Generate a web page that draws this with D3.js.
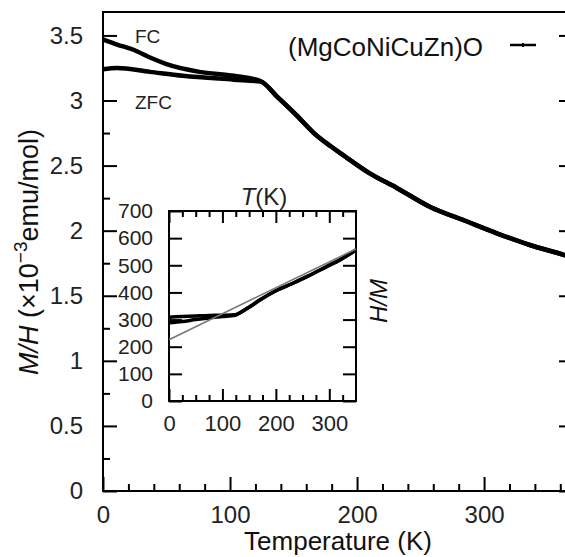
<!DOCTYPE html>
<html>
<head>
<meta charset="utf-8">
<script src="https://cdnjs.cloudflare.com/ajax/libs/d3/7.8.5/d3.min.js"></script>
<style>
body { margin: 0; background: #fff; }
svg { display: block; font-family: 'Liberation Sans', Arial, sans-serif; }
.axis line { stroke: #000; stroke-width: 2; }
.axis text { fill: #222; }
</style>
</head>
<body>
<div id="chartDiv"></div>
<script>
// MAIN PANEL: M/H (x10^-3 emu/mol) vs T (K)
var fcTemp = [0, 11, 24, 37, 50, 76, 103, 124];
var fcMH = [3.47, 3.43, 3.39, 3.33, 3.28, 3.22, 3.19, 3.15];
var zfcTemp = [0, 11, 37, 63, 103, 124];
var zfcMH = [3.24, 3.25, 3.22, 3.19, 3.16, 3.145];
var tailTemp = [137, 152, 166, 179, 192, 210, 231, 258, 284, 310, 336, 364, 370];
var tailMH = [3.03, 2.89, 2.75, 2.65, 2.56, 2.44, 2.33, 2.18, 2.08, 1.98, 1.89, 1.81, 1.79];
var xTicks = [0, 100, 200, 300];
var xMinor = [20, 40, 60, 80, 120, 140, 160, 180, 220, 240, 260, 280, 320, 340, 360];
var yTicks = [0, 0.5, 1, 1.5, 2, 2.5, 3, 3.5];
var yMinor = [0.25, 0.75, 1.25, 1.75, 2.25, 2.75, 3.25];

// INSET: H/M vs T
var inFcTemp = [0, 25, 50, 75, 100, 124];
var inFcHM = [288, 293, 300, 306, 311, 316];
var inZfcTemp = [0, 25, 50, 75, 100, 124];
var inZfcHM = [309, 311, 313, 315, 316, 318];
var inTailTemp = [137, 152, 170, 202, 230, 258, 295, 320, 350];
var inTailHM = [330, 348, 372, 408, 432, 458, 495, 520, 556];
var fitTemp = [0, 350];
var fitHM = [226, 560];
var inXTicks = [0, 100, 200, 300];
var inXMinor = [25, 50, 75, 125, 150, 175, 225, 250, 275, 325];
var inYTicks = [0, 100, 200, 300, 400, 500, 600, 700];

var w = 565, h = 557;
var padL = 103, padR = 573, padT = 12, padB = 491; //right edge sits just outside the picture

var svg = d3.select('#chartDiv')
  .append('svg')
    .attr('width', w)
    .attr('height', h);

var x = d3.scaleLinear().domain([0, 370]).range([padL, padR]);
var y = d3.scaleLinear().domain([0, 3.68]).range([padB, padT]);

function series(t, v) {
  return d3.zip(t, v);
}

function styleAxis(g, size) {
  g.attr('font-size', null).attr('font-family', null);
  g.select('.domain').remove();
  g.selectAll('text').attr('font-size', size);
}

// frame
svg.append('rect')
  .attr('x', padL).attr('y', padT)
  .attr('width', padR - padL).attr('height', padB - padT)
  .attr('fill', 'none').attr('stroke', '#000').attr('stroke-width', 2);

// X axis, ticks point inward
svg.append('g').classed('axis', true)
  .attr('transform', 'translate(0,' + padB + ')')
  .call(d3.axisBottom(x).tickValues(xTicks).tickSize(-14).tickSizeOuter(0).tickPadding(15).tickFormat(d3.format('d')))
  .call(styleAxis, 24);
svg.append('g').classed('axis', true)
  .attr('transform', 'translate(0,' + padB + ')')
  .call(d3.axisBottom(x).tickValues(xMinor).tickSize(-7).tickSizeOuter(0).tickFormat(''))
  .call(styleAxis, 24);

// Y axis left + right
svg.append('g').classed('axis', true)
  .attr('transform', 'translate(' + padL + ',0)')
  .call(d3.axisLeft(y).tickValues(yTicks).tickSize(-14).tickSizeOuter(0).tickPadding(20).tickFormat(function(d) { return d; }))
  .call(styleAxis, 24);
svg.append('g').classed('axis', true)
  .attr('transform', 'translate(' + padL + ',0)')
  .call(d3.axisLeft(y).tickValues(yMinor).tickSize(-7).tickSizeOuter(0).tickFormat(''))
  .call(styleAxis, 24);
svg.append('g').classed('axis', true)
  .attr('transform', 'translate(' + padR + ',0)')
  .call(d3.axisRight(y).tickValues(yTicks).tickSize(-14).tickSizeOuter(0).tickFormat(''))
  .call(styleAxis, 24);
svg.append('g').classed('axis', true)
  .attr('transform', 'translate(' + padR + ',0)')
  .call(d3.axisRight(y).tickValues(yMinor).tickSize(-7).tickSizeOuter(0).tickFormat(''))
  .call(styleAxis, 24);

// axis titles
svg.append('text')
  .attr('x', (padL + padR) / 2).attr('y', 550)
  .attr('text-anchor', 'middle').attr('font-size', 26).attr('fill', '#111')
  .text('Temperature (K)');

var yTitle = svg.append('text')
  .attr('transform', 'translate(38,252) rotate(-90)')
  .attr('text-anchor', 'middle').attr('font-size', 27).attr('fill', '#111');
yTitle.append('tspan').attr('font-style', 'italic').text('M/H');
yTitle.append('tspan').text(' (\u00d710');
yTitle.append('tspan').attr('dy', -11).attr('font-size', 19).text('\u22123');
yTitle.append('tspan').attr('dy', 11).text('emu/mol)');

// curves
var line = d3.line()
  .x(function(d) { return x(d[0]); })
  .y(function(d) { return y(d[1]); })
  .curve(d3.curveMonotoneX);

svg.append('path')
  .datum(series(fcTemp.concat(tailTemp), fcMH.concat(tailMH)))
  .attr('fill', 'none').attr('stroke', '#000').attr('stroke-width', 4.5)
  .attr('d', line);
svg.append('path')
  .datum(series(zfcTemp.concat(tailTemp), zfcMH.concat(tailMH)))
  .attr('fill', 'none').attr('stroke', '#000').attr('stroke-width', 4.5)
  .attr('d', line);

svg.append('text').attr('x', 135).attr('y', 43).attr('font-size', 19).attr('fill', '#222').text('FC');
svg.append('text').attr('x', 135).attr('y', 109).attr('font-size', 19).attr('fill', '#222').text('ZFC');

// legend
svg.append('text').attr('x', 288).attr('y', 56).attr('font-size', 26).attr('fill', '#111').text('(MgCoNiCuZn)O');
svg.append('line').attr('x1', 510).attr('x2', 536).attr('y1', 45).attr('y2', 45)
  .attr('stroke', '#000').attr('stroke-width', 2.5);
svg.append('line').attr('x1', 523).attr('x2', 523).attr('y1', 43).attr('y2', 47)
  .attr('stroke', '#000').attr('stroke-width', 2);

//INSET
var ix = d3.scaleLinear().domain([0, 350]).range([169, 356]);
var iy = d3.scaleLinear().domain([0, 700]).range([401, 211]);

svg.append('rect')
  .attr('x', ix(0)).attr('y', iy(700))
  .attr('width', ix(350) - ix(0)).attr('height', iy(0) - iy(700))
  .attr('fill', '#fff').attr('stroke', '#000').attr('stroke-width', 2);

var inset = svg.append('g');
inset.append('g').classed('axis', true)
  .attr('transform', 'translate(0,' + iy(0) + ')')
  .call(d3.axisBottom(ix).tickValues(inXTicks).tickSize(-12).tickSizeOuter(0).tickPadding(14).tickFormat(d3.format('d')))
  .call(styleAxis, 22);
inset.append('g').classed('axis', true)
  .attr('transform', 'translate(0,' + iy(0) + ')')
  .call(d3.axisBottom(ix).tickValues(inXMinor).tickSize(-6).tickSizeOuter(0).tickFormat(''))
  .call(styleAxis, 22);
inset.append('g').classed('axis', true)
  .attr('transform', 'translate(0,' + iy(700) + ')')
  .call(d3.axisTop(ix).tickValues(inXTicks).tickSize(-12).tickSizeOuter(0).tickFormat(''))
  .call(styleAxis, 22);
inset.append('g').classed('axis', true)
  .attr('transform', 'translate(0,' + iy(700) + ')')
  .call(d3.axisTop(ix).tickValues(inXMinor).tickSize(-6).tickSizeOuter(0).tickFormat(''))
  .call(styleAxis, 22);
inset.append('g').classed('axis', true)
  .attr('transform', 'translate(' + ix(0) + ',0)')
  .call(d3.axisLeft(iy).tickValues(inYTicks).tickSize(-13).tickSizeOuter(0).tickPadding(16).tickFormat(d3.format('d')))
  .call(styleAxis, 21);
inset.append('g').classed('axis', true)
  .attr('transform', 'translate(' + ix(350) + ',0)')
  .call(d3.axisRight(iy).tickValues(inYTicks).tickSize(-13).tickSizeOuter(0).tickFormat(''))
  .call(styleAxis, 21);

var iline = d3.line()
  .x(function(d) { return ix(d[0]); })
  .y(function(d) { return iy(d[1]); })
  .curve(d3.curveMonotoneX);

inset.append('path')
  .datum(series(inFcTemp.concat(inTailTemp), inFcHM.concat(inTailHM)))
  .attr('fill', 'none').attr('stroke', '#000').attr('stroke-width', 3.5)
  .attr('d', iline);
inset.append('path')
  .datum(series(inZfcTemp.concat(inTailTemp), inZfcHM.concat(inTailHM)))
  .attr('fill', 'none').attr('stroke', '#000').attr('stroke-width', 3.5)
  .attr('d', iline);
// Curie-Weiss fit
inset.append('path')
  .datum(series(fitTemp, fitHM))
  .attr('fill', 'none').attr('stroke', '#777').attr('stroke-width', 1.6)
  .attr('d', d3.line().x(function(d) { return ix(d[0]); }).y(function(d) { return iy(d[1]); }));

var tk = inset.append('text')
  .attr('x', 264).attr('y', 205)
  .attr('text-anchor', 'middle').attr('font-size', 24).attr('fill', '#222');
tk.append('tspan').attr('font-style', 'italic').text('T');
tk.append('tspan').text('(K)');

inset.append('text')
  .attr('transform', 'translate(387,301) rotate(-90)')
  .attr('text-anchor', 'middle').attr('font-size', 24).attr('font-style', 'italic').attr('fill', '#111')
  .text('H/M');
</script>
</body>
</html>
